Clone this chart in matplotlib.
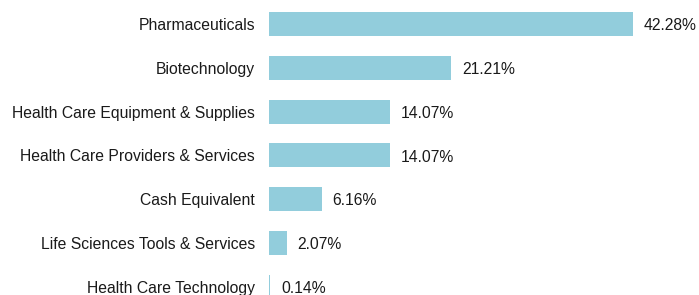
import matplotlib.pyplot as plt

plt.rcParams['font.family'] = ['Liberation Sans', 'DejaVu Sans']

# 섹터별 비중 데이터
sectors = ['Pharmaceuticals', 'Biotechnology', 'Health Care Equipment & Supplies',
           'Health Care Providers & Services', 'Cash Equivalent',
           'Life Sciences Tools & Services', 'Health Care Technology']
weights = [42.28, 21.21, 14.07, 14.07, 6.16, 2.07, 0.14]

fig = plt.figure(figsize=(6.99, 2.95), dpi=100)
ax = fig.add_axes([269 / 699, 0, 430 / 699, 1])

pos = list(range(len(sectors)))
ax.barh(pos, weights, height=0.55, color='#92CDDC')

for p, w in zip(pos, weights):
    ax.text(w + 1.25, p + 0.04, f'{w:.2f}%', va='center', ha='left', fontsize=11.3, color='#1a1a1a')

ax.set_xlim(0, 50)
ax.set_ylim(6.187, -0.548)
ax.set_yticks(pos)
ax.set_yticklabels(sectors, fontsize=11.3, color='#1a1a1a')
ax.tick_params(axis='y', length=0, pad=10)
ax.set_xticks([])
for s in ax.spines.values():
    s.set_visible(False)

plt.savefig('out.png', dpi=100)
